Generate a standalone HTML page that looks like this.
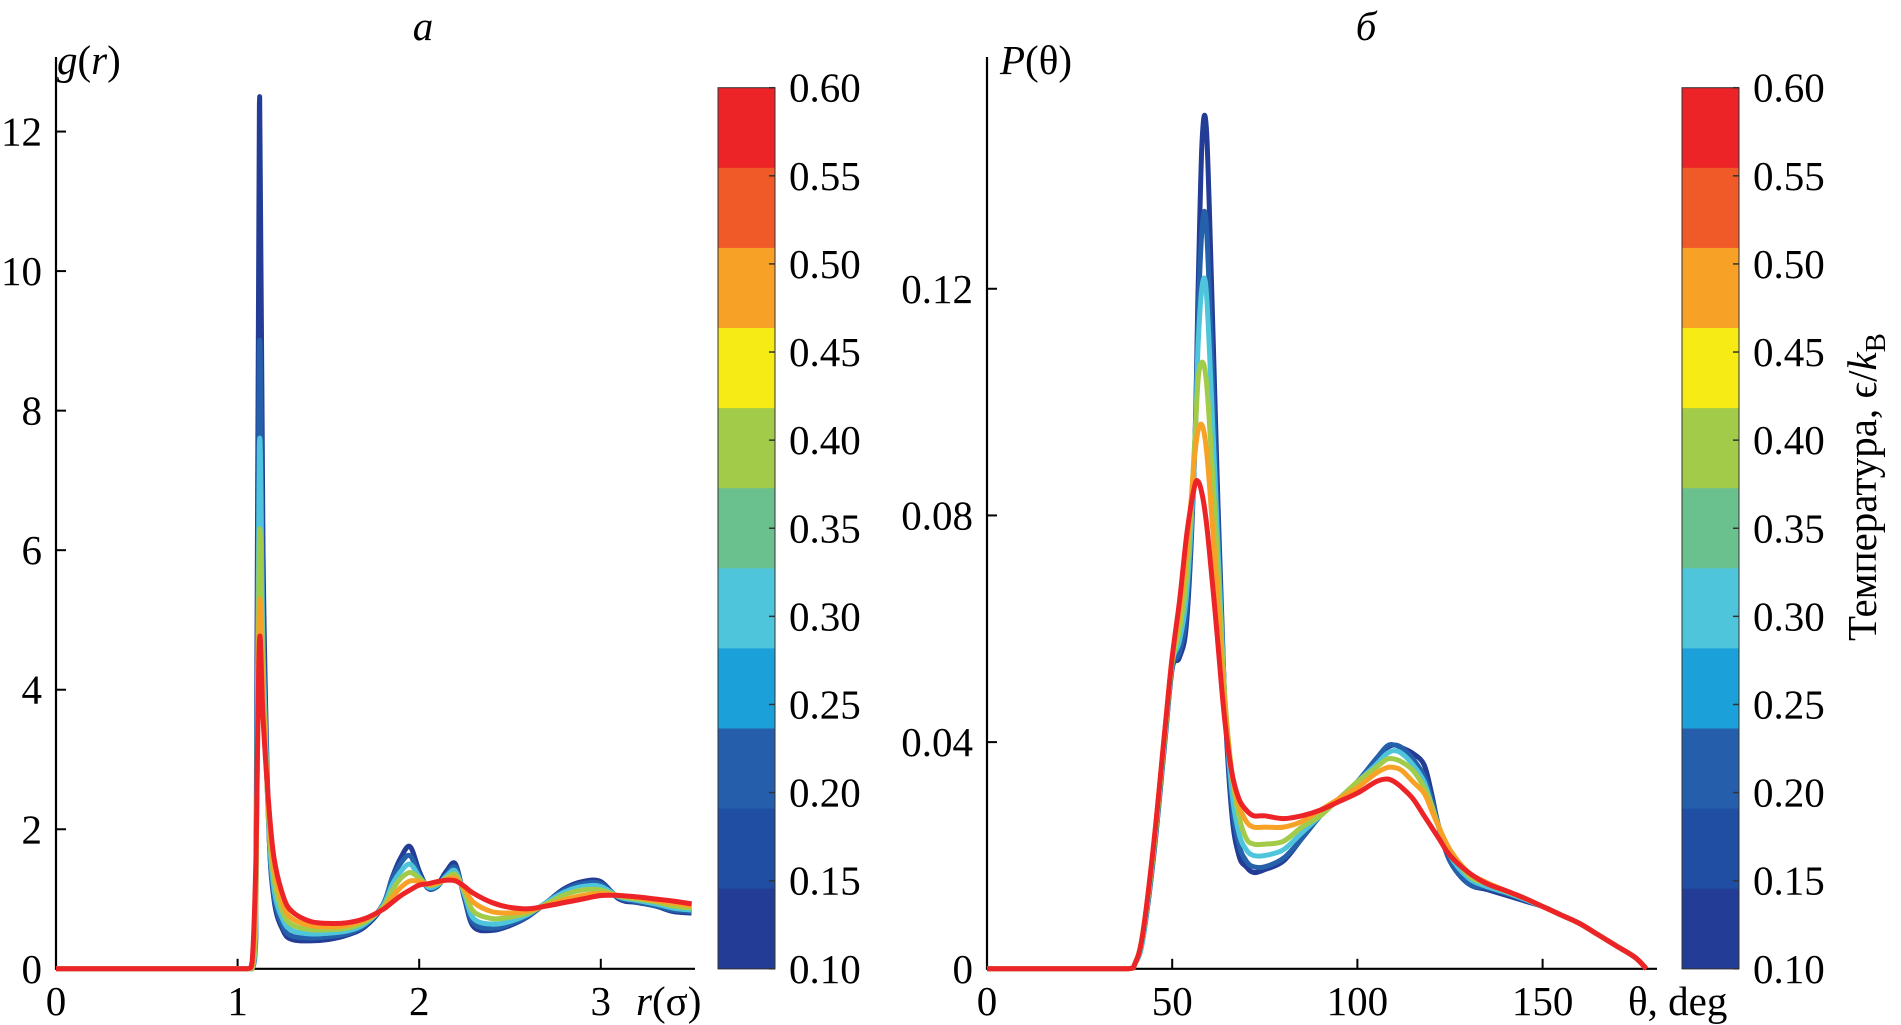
<!DOCTYPE html>
<html><head><meta charset="utf-8">
<style>
html,body{margin:0;padding:0;background:#fff;}
svg{display:block;font-family:"Liberation Serif",serif;}
</style></head>
<body>
<svg id="chart" width="1901" height="1025" viewBox="0 0 1901 1025" xmlns="http://www.w3.org/2000/svg"></svg>
<script>
// ---------- shared data ----------
const temps = ["0.10","0.20","0.30","0.40","0.50","0.60"];
const seriesColors = ["#233c96","#2560ab","#4fc5dc","#a3cb4a","#f7a226","#ec2427"];
const cbarLabels = ["0.60","0.55","0.50","0.45","0.40","0.35","0.30","0.25","0.20","0.15","0.10"];
const cbarColors = ["#ec2427","#ef5a28","#f7a226","#f6eb14","#a3cb4a","#6bc18e","#4fc5dc","#1ba0da","#255fab","#1f4ea2","#233c96"];

// ---------- panel a: g(r) ----------
const rX = [0,1.05,1.08,1.10,1.12,1.14,1.17,1.2,1.25,1.3,1.4,1.5,1.6,1.7,1.8,1.85,1.9,1.95,2.0,2.05,2.1,2.15,2.2,2.25,2.3,2.4,2.5,2.6,2.7,2.8,2.9,3.0,3.1,3.2,3.3,3.4,3.5];
const g010 = [0,0,0,0.5,12.4,6,2.2,1.0,0.55,0.42,0.4,0.42,0.48,0.6,0.9,1.3,1.6,1.75,1.4,1.15,1.2,1.4,1.5,1.0,0.6,0.55,0.62,0.75,0.95,1.15,1.25,1.25,1.0,0.95,0.9,0.82,0.8];
const g020 = [0,0,0,0.4,8.9,5.0,2.1,1.05,0.6,0.47,0.44,0.46,0.5,0.62,0.92,1.28,1.52,1.62,1.35,1.15,1.18,1.35,1.45,1.02,0.65,0.58,0.64,0.76,0.95,1.13,1.22,1.22,1.02,0.96,0.9,0.84,0.82];
const g030 = [0,0,0,0.6,7.5,4.6,2.15,1.15,0.7,0.55,0.5,0.51,0.54,0.64,0.9,1.2,1.4,1.5,1.32,1.17,1.2,1.33,1.4,1.06,0.72,0.64,0.68,0.78,0.95,1.1,1.18,1.18,1.03,0.98,0.93,0.87,0.84];
const g040 = [0,0,0,0.8,6.2,4.2,2.2,1.3,0.8,0.63,0.56,0.56,0.58,0.67,0.88,1.12,1.3,1.38,1.3,1.2,1.22,1.3,1.35,1.1,0.82,0.72,0.74,0.8,0.93,1.06,1.13,1.13,1.04,1.0,0.96,0.9,0.87];
const g050 = [0,0,0.05,1.1,5.2,3.9,2.3,1.45,0.92,0.72,0.62,0.6,0.62,0.7,0.86,1.02,1.17,1.26,1.25,1.21,1.23,1.28,1.3,1.14,0.95,0.82,0.8,0.83,0.91,0.99,1.05,1.08,1.05,1.02,0.98,0.94,0.9];
const g060 = [0,0,0.1,1.5,4.7,3.6,2.4,1.6,1.05,0.82,0.68,0.65,0.66,0.72,0.85,0.95,1.05,1.13,1.2,1.22,1.25,1.27,1.26,1.18,1.08,0.95,0.88,0.86,0.9,0.95,1.0,1.05,1.05,1.03,1.0,0.97,0.93];
const gXTicks = [0,1,2,3];
const gYTicks = [0,2,4,6,8,10,12];

// ---------- panel b: P(theta) ----------
const tX = [0,38,40,42,45,48,50,52,54,56,57,58,59,60,62,64,66,68,70,72,75,80,85,90,95,100,105,108,110,112,115,118,120,122,125,130,135,140,145,150,155,160,165,170,175,178];
const p010 = [0,0,0.001,0.005,0.02,0.04,0.053,0.055,0.062,0.09,0.12,0.145,0.150,0.135,0.09,0.05,0.028,0.02,0.018,0.017,0.0175,0.019,0.023,0.027,0.03,0.033,0.037,0.039,0.0395,0.039,0.038,0.036,0.031,0.025,0.019,0.015,0.014,0.013,0.012,0.011,0.0095,0.008,0.006,0.004,0.002,0];
const p020 = [0,0,0.001,0.005,0.02,0.04,0.053,0.056,0.064,0.09,0.115,0.13,0.133,0.12,0.085,0.05,0.03,0.022,0.019,0.018,0.018,0.0195,0.023,0.027,0.03,0.033,0.037,0.0393,0.0395,0.039,0.037,0.034,0.03,0.025,0.019,0.015,0.0143,0.0133,0.0122,0.011,0.0095,0.008,0.006,0.004,0.002,0];
const p030 = [0,0,0.001,0.005,0.021,0.041,0.054,0.058,0.067,0.09,0.11,0.12,0.121,0.11,0.08,0.05,0.032,0.024,0.021,0.02,0.02,0.021,0.024,0.027,0.03,0.033,0.036,0.038,0.0385,0.038,0.036,0.033,0.029,0.025,0.02,0.016,0.0145,0.0135,0.0123,0.011,0.0095,0.008,0.006,0.004,0.002,0];
const p040 = [0,0,0.001,0.006,0.021,0.041,0.054,0.06,0.07,0.092,0.104,0.107,0.105,0.097,0.075,0.05,0.035,0.027,0.023,0.022,0.022,0.0225,0.025,0.027,0.03,0.033,0.0355,0.037,0.037,0.0365,0.035,0.032,0.029,0.025,0.021,0.0165,0.015,0.0137,0.0125,0.011,0.0095,0.008,0.006,0.004,0.002,0];
const p050 = [0,0,0.001,0.006,0.022,0.042,0.055,0.063,0.074,0.09,0.095,0.096,0.093,0.086,0.068,0.048,0.035,0.029,0.026,0.025,0.025,0.025,0.026,0.028,0.03,0.032,0.0345,0.0355,0.0355,0.035,0.033,0.031,0.028,0.025,0.021,0.017,0.0152,0.0138,0.0125,0.011,0.0095,0.008,0.006,0.004,0.002,0];
const p060 = [0,0,0.001,0.006,0.022,0.042,0.055,0.065,0.077,0.085,0.086,0.084,0.08,0.074,0.06,0.045,0.035,0.03,0.028,0.027,0.027,0.0265,0.027,0.028,0.0295,0.031,0.033,0.0335,0.033,0.032,0.03,0.027,0.025,0.023,0.02,0.017,0.015,0.0138,0.0125,0.011,0.0095,0.008,0.006,0.004,0.002,0];
const pXTicks = [0,50,100,150];
const pYTicks = [0,0.04,0.08,0.12];
const pYTickLabels = ["0","0.04","0.08","0.12"];

const NS = "http://www.w3.org/2000/svg";
const svg = document.getElementById("chart");
function mk(tag, attrs, parent){
  const e = document.createElementNS(NS, tag);
  for (const k in attrs) e.setAttribute(k, attrs[k]);
  (parent||svg).appendChild(e);
  return e;
}

const Y0 = 968.8;
// axis functions
const gx = v => 56 + v * 181.6;
const gy = v => Y0 - v * 69.77;
const px = v => 987 + v * 3.704;
const py = v => Y0 - v * 5667;

function smoothPath(pts){
  let d = "M" + pts[0][0].toFixed(1) + "," + pts[0][1].toFixed(1);
  for (let i = 0; i < pts.length - 1; i++){
    const p0 = pts[Math.max(i-1,0)], p1 = pts[i], p2 = pts[i+1], p3 = pts[Math.min(i+2,pts.length-1)];
    let c1x = p1[0] + (p2[0]-p0[0])/6, c1y = p1[1] + (p2[1]-p0[1])/6;
    let c2x = p2[0] - (p3[0]-p1[0])/6, c2y = p2[1] - (p3[1]-p1[1])/6;
    c1y = Math.min(c1y, Y0); c2y = Math.min(c2y, Y0);
    c1x = Math.min(Math.max(c1x,p1[0]),p2[0]); c2x = Math.min(Math.max(c2x,p1[0]),p2[0]);
    d += " C" + c1x.toFixed(1) + "," + c1y.toFixed(1) + " " + c2x.toFixed(1) + "," + c2y.toFixed(1) + " " + p2[0].toFixed(1) + "," + p2[1].toFixed(1);
  }
  return d;
}

const FS = 41;
function drawPanel(o){
  const g = mk("g", {});
  
  
  const ax = mk("path", {d:`M${o.x0},${o.yTop} V${Y0} H${o.xEnd}`, stroke:"#000", "stroke-width":2.2, fill:"none"}, g);
  
  
  o.yTicks.forEach((v,i)=>{
    const y = o.fy(v);
    const t = mk("line", {x1:o.x0, x2:o.x0+10, y1:y, y2:y, stroke:"#000", "stroke-width":2}, g);
    
    
    const l = mk("text", {x:o.x0-14, y:y+14, "text-anchor":"end", "font-size":FS}, g);
    l.textContent = o.yLabels[i];
    
    
  });
  o.xTicks.forEach(v=>{
    const x = o.fx(v);
    const t = mk("line", {x1:x, x2:x, y1:Y0, y2:Y0-10, stroke:"#000", "stroke-width":2}, g);
    
    
    const l = mk("text", {x:x, y:1015, "text-anchor":"middle", "font-size":FS}, g);
    l.textContent = String(v);
    
    
  });
  o.series.forEach((ys,si)=>{
    const pts = o.xs.map((xv,i)=>[o.fx(xv), o.fy(ys[i])]);
    const p = mk("path", {d:smoothPath(pts), stroke:seriesColors[si], "stroke-width":5, fill:"none", "stroke-linejoin":"round"}, g);
    
    
  });
  const cb = mk("g", {}, g);
  
  
  const top = 87.7, H = Y0 - top;
  const bh = H / cbarColors.length;
  cbarColors.forEach((c,i)=>{
    const r = mk("rect", {x:o.cbx, y:top + i*bh, width:57, height:bh+0.5, fill:c}, cb);
    
    
  });
  mk("rect", {x:o.cbx, y:top, width:57, height:H, fill:"none", stroke:"#333", "stroke-width":1}, cb);
  const step = H / (cbarLabels.length - 1);
  cbarLabels.forEach((s,i)=>{
    const y = top + i*step;
    mk("line", {x1:o.cbx+51, x2:o.cbx+57, y1:y, y2:y, stroke:"#333", "stroke-width":1.5}, cb);
    const l = mk("text", {x:o.cbx+71, y:y+14, "font-size":FS}, cb);
    l.textContent = s;
    
    
  });
}

drawPanel({name:"panel-a-gr", x0:56, xEnd:695, yTop:57, fx:gx, fy:gy, xs:rX,
  series:[g010,g020,g030,g040,g050,g060], xTicks:gXTicks, yTicks:gYTicks,
  yLabels:gYTicks.map(String), cbx:718});
drawPanel({name:"panel-b-ptheta", x0:987, xEnd:1657, yTop:57, fx:px, fy:py, xs:tX,
  series:[p010,p020,p030,p040,p050,p060], xTicks:pXTicks, yTicks:pYTicks,
  yLabels:pYTickLabels, cbx:1682});

function txt(x,y,s,name,attrs){
  const t = mk("text", Object.assign({x:x,y:y,"font-size":FS}, attrs||{}));
  t.innerHTML = s;
  
  
  return t;
}
txt(423, 40, "a", "panel-a-title", {"font-style":"italic","text-anchor":"middle"});
txt(1366, 40, "б", "panel-b-title", {"font-style":"italic","text-anchor":"middle"});
txt(57, 74, '<tspan font-style="italic">g</tspan>(<tspan font-style="italic">r</tspan>)', "y-axis-title-a");
txt(1000, 74, '<tspan font-style="italic">P</tspan>(θ)', "y-axis-title-b");
txt(636, 1015, '<tspan font-style="italic">r</tspan>(σ)', "x-axis-title-a");
txt(1628, 1015, 'θ, deg', "x-axis-title-b");
txt(0, 0, 'Температура, ϵ/<tspan font-style="italic">k</tspan><tspan font-size="29" dy="9">B</tspan>', "colorbar-title",
  {transform:"translate(1876,487) rotate(-90)", "text-anchor":"middle"});
</script>
</body></html>
